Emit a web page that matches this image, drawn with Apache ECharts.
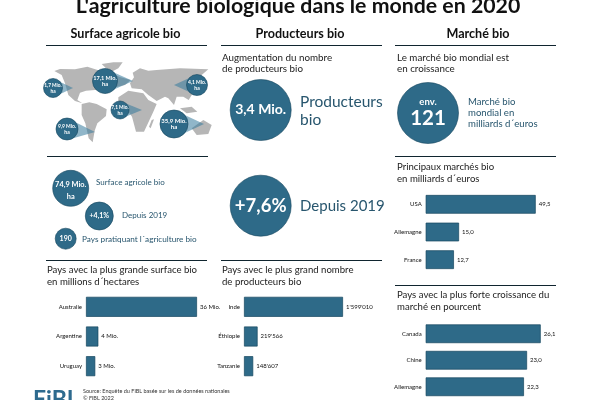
<!DOCTYPE html>
<html>
<head>
<meta charset="utf-8">
<title>L'agriculture biologique dans le monde en 2020</title>
<script src="https://cdn.jsdelivr.net/npm/echarts@6/dist/echarts.min.js"></script>
<style>
html, body { margin: 0; padding: 0; background: #fff; }
#chart { width: 600px; height: 400px; }
</style>
</head>
<body>
<div id="chart"></div>
<script>
var surfaceCountries = ["Australie", "Argentine", "Uruguay"];
var surfaceValues = [36, 4, 3];
var surfaceLabels = ["36 Mio.", "4 Mio.", "3 Mio."];

var producerCountries = ["Inde", "Éthiopie", "Tanzanie"];
var producerValues = [1599010, 219566, 148607];
var producerLabels = ["1'599'010", "219'566", "148'607"];

var marketCountries = ["USA", "Allemagne", "France"];
var marketValues = [49.5, 15.0, 12.7];
var marketLabels = ["49,5", "15,0", "12,7"];

var growthCountries = ["Canada", "Chine", "Allemagne"];
var growthValues = [26.1, 23.0, 22.3];
var growthLabels = ["26,1", "23,0", "22,3"];

var regionLabels = ["1,7 Mio.", "17,1 Mio.", "4,1 Mio.", "7,1 Mio.", "9,9 Mio.", "35,9 Mio."];

var FONT = "Lato, 'Open Sans', sans-serif";
var BLUE = "#2e6a88";
var BLUE_DARK = "#15465e";
var TEXT_BLUE = "#28566e";
var INK = "#10252f";

// rough continent outlines, in 3x pixels of the page
var CONTINENTS = [
    [163,213, 180,207, 225,208, 262,200, 300,212, 335,222, 362,232, 392,240, 375,255, 345,262, 285,270, 258,272, 240,278, 232,300, 247,310, 225,303, 205,285, 195,250, 185,225],
    [305,192, 340,187, 368,187, 355,205, 335,215, 318,205],
    [245,312, 268,307, 290,312, 320,328, 318,348, 292,370, 284,392, 278,427, 266,415, 256,370, 245,345],
    [355,292, 385,272, 430,280, 445,300, 470,312, 460,335, 432,395, 408,395, 396,350, 382,330, 355,315],
    [390,250, 402,232, 398,218, 420,205, 445,212, 470,210, 540,205, 625,208, 605,225, 590,248, 583,272, 566,300, 550,290, 530,290, 522,315, 505,295, 495,290, 470,303, 445,285, 425,268, 395,265],
    [575,385, 610,360, 635,375, 625,402, 590,405],
    [540,325, 575,320, 592,335, 560,340],
    [455,360, 462,358, 452,385, 447,380]
];

var graphics = [];

function add_text(text, x, y, size, fill, weight, align)
{
    graphics.push({
        type: "text",
        silent: true,
        z: 20,
        style: {
            text: text,
            x: x,
            y: y,
            fill: fill,
            font: (weight || "normal") + " " + size + "px " + FONT,
            textAlign: align || "left",
            textVerticalAlign: "middle"
        }
    });
}

function add_rule(x1, x2, y)
{
    graphics.push({
        type: "line",
        silent: true,
        shape: {x1: x1, y1: y + 0.5, x2: x2, y2: y + 0.5},
        style: {stroke: INK, lineWidth: 1}
    });
}

function add_circle(x, y, r)
{
    graphics.push({
        type: "circle",
        silent: true,
        z: 10,
        shape: {cx: x, cy: y, r: r},
        style: {fill: BLUE, stroke: BLUE_DARK, lineWidth: 0.6}
    });
}

// bubble on the map with its see-through pointer to the region
function add_region(label, x, y, r, tip_x, tip_y, size)
{
    graphics.push({
        type: "polygon",
        silent: true,
        z: 5,
        shape: {points: [[x, y - r], [tip_x, tip_y], [x, y + r]]},
        style: {fill: "#357a9c", opacity: 0.55}
    });
    add_circle(x, y, r);
    add_text(label, x, y - 3, size, "#fff", "bold", "center");
    add_text("ha", x, y + 3.5, size, "#fff", "bold", "center");
}

function bar_series(index, values, labels, bar_width)
{
    return {
        type: "bar",
        xAxisIndex: index,
        yAxisIndex: index,
        data: values,
        barWidth: bar_width,
        silent: true,
        itemStyle: {color: BLUE, borderColor: BLUE_DARK, borderWidth: 0.7},
        label: {
            show: true,
            position: "right",
            distance: 3,
            fontFamily: FONT,
            fontSize: 6,
            color: "#111",
            formatter: function(p) { return labels[p.dataIndex]; }
        }
    };
}

function bar_grid(left, top, width, height)
{
    return {left: left, top: top, width: width, height: height, containLabel: false};
}

function value_axis(index, max)
{
    return {type: "value", gridIndex: index, min: 0, max: max, show: false};
}

function name_axis(index, names)
{
    return {
        type: "category",
        gridIndex: index,
        data: names,
        inverse: true,
        axisLine: {show: false},
        axisTick: {show: false},
        splitLine: {show: false},
        axisLabel: {fontFamily: FONT, fontSize: 6, color: "#111", margin: 4, interval: 0}
    };
}

// map
CONTINENTS.forEach(function(outline) {
    var points = [];
    for (var i = 0; i < outline.length; i += 2) {
        points.push([outline[i] / 3, outline[i + 1] / 3]);
    }
    graphics.push({
        type: "polygon",
        silent: true,
        z: 1,
        shape: {points: points},
        style: {fill: "#b6b6b6"}
    });
});
add_region(regionLabels[0], 53, 88, 9.5, 73, 88, 4.8);
add_region(regionLabels[1], 105, 81, 12.5, 133, 81, 5.6);
add_region(regionLabels[2], 197, 85, 10.5, 174, 85, 5);
add_region(regionLabels[3], 120, 110, 9, 142, 110, 4.8);
add_region(regionLabels[4], 67, 129, 11, 95, 132, 5);
add_region(regionLabels[5], 174, 124, 14, 204, 124, 6);

// title and column heads
add_text("L'agriculture biologique dans le monde en 2020", 298, 6, 21.3, "#111", "bold", "center");
add_text("Surface agricole bio", 125.5, 34, 12.6, "#111", "bold", "center");
add_text("Producteurs bio", 300, 34, 12.6, "#111", "bold", "center");
add_text("Marché bio", 478, 34, 12.6, "#111", "bold", "center");

add_rule(46, 207, 45);
add_rule(221, 382, 45);
add_rule(395, 556, 45);
add_rule(47, 208, 156);
add_rule(46, 207, 260);
add_rule(221, 382, 260);
add_rule(395, 556, 156);
add_rule(395, 556, 285);

// left column key figures
add_circle(70.7, 188.3, 18);
add_text("74,9 Mio.", 70.7, 185, 7.4, "#fff", "bold", "center");
add_text("ha", 70.7, 197, 7.4, "#fff", "bold", "center");
add_text("Surface agricole bio", 96, 182.7, 8, TEXT_BLUE);
add_circle(99.3, 216, 14);
add_text("+4,1%", 99.3, 216, 7, "#fff", "bold", "center");
add_text("Depuis 2019", 122, 215, 8, TEXT_BLUE);
add_circle(65.7, 238.7, 10.5);
add_text("190", 65.7, 239, 7, "#fff", "bold", "center");
add_text("Pays pratiquant l´agriculture bio", 82, 239, 8.2, TEXT_BLUE);

add_text("Pays avec la plus grande surface bio", 47, 270, 9.6, "#222");
add_text("en millions d´hectares", 47, 281.5, 9.6, "#222");

// middle column
add_text("Augmentation du nombre", 222, 57.5, 9.8, "#222");
add_text("de producteurs bio", 222, 69, 9.8, "#222");
add_circle(260.7, 110, 30.5);
add_text("3,4 Mio.", 260.7, 109.5, 14, "#fff", "bold", "center");
add_text("Producteurs", 300, 102, 15.5, TEXT_BLUE);
add_text("bio", 300, 120, 15.5, TEXT_BLUE);
add_circle(260.7, 205.7, 30.5);
add_text("+7,6%", 260.7, 206, 18.5, "#fff", "bold", "center");
add_text("Depuis 2019", 300, 206, 15, TEXT_BLUE);
add_text("Pays avec le plus grand nombre", 222, 270, 9.6, "#222");
add_text("de producteurs bio", 222, 281.5, 9.6, "#222");

// right column
add_text("Le marché bio mondial est", 397, 57.5, 9.8, "#222");
add_text("en croissance", 397, 69, 9.8, "#222");
add_circle(428, 113, 30.5);
add_text("env.", 428, 101.5, 9.5, "#fff", "bold", "center");
add_text("121", 428, 118.5, 20.5, "#fff", "bold", "center");
add_text("Marché bio", 468, 101.7, 9.6, TEXT_BLUE);
add_text("mondial en", 468, 112.7, 9.6, TEXT_BLUE);
add_text("milliards d´euros", 468, 124, 9.6, TEXT_BLUE);
add_text("Principaux marchés bio", 397, 167, 9.6, "#222");
add_text("en milliards d´euros", 397, 178.5, 9.6, "#222");
add_text("Pays avec la plus forte croissance du", 397, 295, 9.6, "#222");
add_text("marché en pourcent", 397, 306.5, 9.6, "#222");

// footer
add_text("FiBL", 33, 399.5, 23, "#2d6a8e", "bold");
add_text("Source: Enquête du FiBL basée sur les de données nationales", 83, 391.5, 5.5, "#333");
add_text("© FiBL 2022", 83, 398, 5.5, "#333");

var chart = echarts.init(document.getElementById("chart"));
chart.setOption({
    animation: false,
    backgroundColor: "#fff",
    grid: [
        bar_grid(86, 292, 111, 89),
        bar_grid(244, 292, 99, 89),
        bar_grid(425.7, 190.5, 110, 83),
        bar_grid(425.7, 320.5, 115, 83)
    ],
    xAxis: [
        value_axis(0, surfaceValues[0]),
        value_axis(1, producerValues[0]),
        value_axis(2, marketValues[0]),
        value_axis(3, growthValues[0])
    ],
    yAxis: [
        name_axis(0, surfaceCountries),
        name_axis(1, producerCountries),
        name_axis(2, marketCountries),
        name_axis(3, growthCountries)
    ],
    series: [
        bar_series(0, surfaceValues, surfaceLabels, 20),
        bar_series(1, producerValues, producerLabels, 20),
        bar_series(2, marketValues, marketLabels, 18.7),
        bar_series(3, growthValues, growthLabels, 18.7)
    ],
    graphic: {elements: graphics}
});
</script>
</body>
</html>
